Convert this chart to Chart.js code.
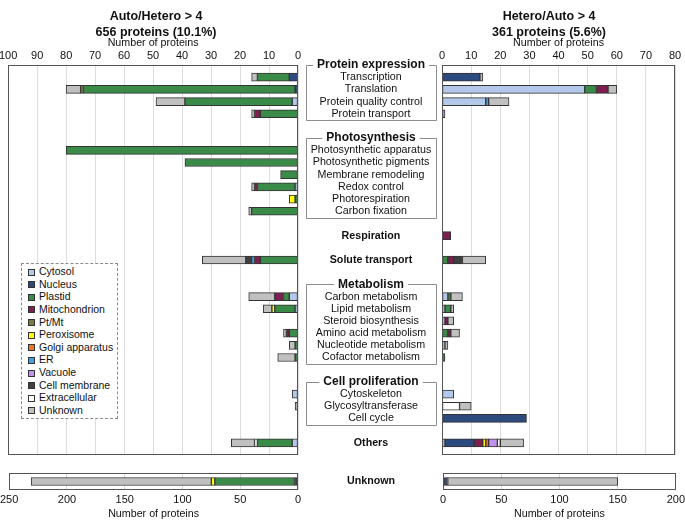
<!DOCTYPE html>
<html>
<head>
<meta charset="utf-8">
<script src="https://cdn.jsdelivr.net/npm/chart.js@4.4.1/dist/chart.umd.min.js"></script>
<style>
  body { margin: 0; background: #fff; font-family: "Liberation Sans", Arial, sans-serif; }
  #wrap { position: relative; width: 685px; height: 520px; overflow: hidden; }
  canvas { position: absolute; }
  .ttl { position: absolute; top: 8px; width: 200px; text-align: center; font-weight: bold; font-size: 12.5px;
         line-height: 16px; color: #111; }
  #legend { position: absolute; left: 21px; top: 263px; width: 97px; height: 156px; box-sizing: border-box;
            border: 1px dashed #8a8a8a; background: #fff; padding-top: 1px; }
  .li { height: 12.64px; line-height: 12.64px; font-size: 10.5px; color: #111; white-space: nowrap; }
  .sw { display: inline-block; width: 5px; height: 5px; border: 1px solid #333; margin: 0 4px 0 6px; vertical-align: -0.5px; }
</style>
</head>
<body>
<div id="wrap">
  <canvas id="topLeft" width="443" height="462" style="left:-3px;top:0"></canvas>
  <canvas id="topRight" width="248" height="462" style="left:437px;top:0"></canvas>
  <canvas id="botLeft" width="443" height="58" style="left:-3px;top:462px"></canvas>
  <canvas id="botRight" width="251" height="58" style="left:437px;top:462px"></canvas>
  <div class="ttl" style="left:56px">Auto/Hetero &gt; 4<br>656 proteins (10.1%)</div>
  <div class="ttl" style="left:449px">Hetero/Auto &gt; 4<br>361 proteins (5.6%)</div>
  <div id="legend"></div>
</div>
<script>
// ---- categories ----
var groupNames = ['Protein expression', 'Photosynthesis', 'Respiration', 'Solute transport', 'Metabolism', 'Cell proliferation', 'Others'];
var groupItems = [
  ['Transcription', 'Translation', 'Protein quality control', 'Protein transport'],
  ['Photosynthetic apparatus', 'Photosynthetic pigments', 'Membrane remodeling', 'Redox control', 'Photorespiration', 'Carbon fixation'],
  [],
  [],
  ['Carbon metabolism', 'Lipid metabolism', 'Steroid biosynthesis', 'Amino acid metabolism', 'Nucleotide metabolism', 'Cofactor metabolism'],
  ['Cytoskeleton', 'Glycosyltransferase', 'Cell cycle'],
  []
];
var locNames = ['Cytosol', 'Nucleus', 'Plastid', 'Mitochondrion', 'Pt/Mt', 'Peroxisome', 'Golgi apparatus', 'ER', 'Vacuole', 'Cell membrane', 'Extracellular', 'Unknown'];
var locColors = ['#b3c9ea', '#2d4a7f', '#3a8a48', '#7b2050', '#7c7a3e', '#ffff10', '#ea7628', '#40a2e6', '#c391f0', '#404040', '#ffffff', '#c0c0c0'];

// ---- Auto/Hetero > 4 (22 rows, top to bottom) ----
var ahCytosol  = [0, 0, 2, 0,   0, 0, 0, 1, 0, 0,   0,  0,   3, 1, 0, 0, 0, 0,   2, 0, 0,   2];
var ahNucleus  = [3, 1, 0, 0,   0, 0, 0, 0, 0, 0,   0,  0,   0, 0, 0, 0, 0, 0,   0, 0, 0,   0];
var ahPlastid  = [11, 73, 37, 13, 80, 39, 6, 13, 1, 16, 0, 13, 2, 7, 0, 3, 1, 1,  0, 0, 0,  12];
var ahMito     = [0, 0, 0, 2,   0, 0, 0, 1, 0, 0,   0,  2,   3, 0, 0, 1, 0, 0,   0, 0, 0,   0];
var ahPtMt     = [0, 1, 0, 0,   0, 0, 0, 0, 0, 0,   0,  0,   0, 0, 0, 0, 0, 0,   0, 0, 0,   0];
var ahPerox    = [0, 0, 0, 0,   0, 0, 0, 0, 2, 0,   0,  0,   0, 1, 0, 0, 0, 0,   0, 0, 0,   0];
var ahGolgi    = [0, 0, 0, 0,   0, 0, 0, 0, 0, 0,   0,  0,   0, 0, 0, 0, 0, 0,   0, 0, 0,   0];
var ahER       = [0, 0, 0, 0,   0, 0, 0, 0, 0, 0,   0,  1,   0, 0, 0, 0, 0, 0,   0, 0, 0,   0];
var ahVacuole  = [0, 0, 0, 0,   0, 0, 0, 0, 0, 0,   0,  0,   0, 0, 0, 0, 0, 0,   0, 0, 0,   0];
var ahMembrane = [0, 0, 0, 0,   0, 0, 0, 0, 0, 0,   0,  2,   0, 0, 0, 0, 0, 0,   0, 0, 0,   0];
var ahExtra    = [0, 0, 0, 0,   0, 0, 0, 0, 0, 0,   0,  0,   0, 0, 0, 0, 0, 0,   0, 0, 0,   1];
var ahUnknown  = [2, 5, 10, 1,  0, 0, 0, 1, 0, 1,   0, 15,   9, 3, 0, 1, 2, 6,   0, 1, 0,   8];

// ---- Hetero/Auto > 4 ----
var haCytosol  = [0, 49, 15, 0, 0, 0, 0, 0, 0, 0,   0,  0,   2, 1, 1, 0, 1, 0,   4, 0, 0,   1];
var haNucleus  = [13, 0, 0, 0,  0, 0, 0, 0, 0, 0,   0,  0,   0, 0, 0, 0, 0, 0,   0, 0, 29, 10];
var haPlastid  = [0, 4, 0, 0,   0, 0, 0, 0, 0, 0,   0,  2,   1, 2, 0, 2, 0, 1,   0, 0, 0,   0];
var haMito     = [0, 4, 0, 0,   0, 0, 0, 0, 0, 0,   3,  2,   0, 0, 1, 1, 0, 0,   0, 0, 0,   3];
var haPtMt     = [0, 0, 0, 0,   0, 0, 0, 0, 0, 0,   0,  0,   0, 0, 0, 0, 0, 0,   0, 0, 0,   0];
var haPerox    = [0, 0, 0, 0,   0, 0, 0, 0, 0, 0,   0,  0,   0, 0, 0, 0, 0, 0,   0, 0, 0,   1];
var haGolgi    = [0, 0, 0, 0,   0, 0, 0, 0, 0, 0,   0,  0,   0, 0, 0, 0, 0, 0,   0, 0, 0,   1];
var haER       = [0, 0, 1, 0,   0, 0, 0, 0, 0, 0,   0,  0,   0, 0, 0, 0, 0, 0,   0, 0, 0,   0];
var haVacuole  = [0, 0, 0, 1,   0, 0, 0, 0, 0, 0,   0,  0,   0, 0, 0, 0, 0, 0,   0, 0, 0,   3];
var haMembrane = [0, 0, 0, 0,   0, 0, 0, 0, 0, 0,   0,  3,   0, 0, 0, 0, 0, 0,   0, 0, 0,   0];
var haExtra    = [0, 0, 0, 0,   0, 0, 0, 0, 0, 0,   0,  0,   0, 0, 0, 0, 0, 0,   0, 6, 0,   1];
var haUnknown  = [1, 3, 7, 0,   0, 0, 0, 0, 0, 0,   0,  8,   4, 1, 2, 3, 1, 0,   0, 4, 0,   8];

// ---- "Unknown" function row, by localization ----
var ahUnknownFn = [1, 2, 69, 0, 0, 3, 0, 0, 0, 0, 0, 156];
var haUnknownFn = [0, 3, 1, 0, 0, 0, 0, 0, 0, 0, 0, 146];

var ahSeries = [ahCytosol, ahNucleus, ahPlastid, ahMito, ahPtMt, ahPerox, ahGolgi, ahER, ahVacuole, ahMembrane, ahExtra, ahUnknown];
var haSeries = [haCytosol, haNucleus, haPlastid, haMito, haPtMt, haPerox, haGolgi, haER, haVacuole, haMembrane, haExtra, haUnknown];

// =========================================================================
// slots on the y axis: data rows, group headers and spacer rows
// =========================================================================
var slots = [];
var rowN = 0;
groupNames.forEach(function (g, gi) {
  var items = groupItems[gi];
  if (gi > 0) slots.push({ kind: 'gap' });
  if (items.length) {
    var h = { kind: 'header', text: g };
    slots.push(h);
    items.forEach(function (t) { slots.push({ kind: 'item', text: t, row: rowN++ }); });
    h.last = slots.length - 1;
  } else {
    slots.push({ kind: 'single', text: g, row: rowN++ });
  }
});
slots.push({ kind: 'gap' });
var slotLabels = slots.map(function (s) { return s.text || ''; });

function toSlots(arr) {
  return slots.map(function (s) { return s.row === undefined ? null : (arr[s.row] || null); });
}

function makeSets(series) {
  return locNames.map(function (name, i) {
    return { label: name, data: toSlots(series[i]), backgroundColor: locColors[i], borderColor: '#333',
             borderWidth: 1, borderSkipped: false, barThickness: 8 };
  });
}
function makeSingle(values) {
  return locNames.map(function (name, i) {
    return { label: name, data: [values[i] || null], backgroundColor: locColors[i], borderColor: '#333',
             borderWidth: 1, borderSkipped: false, barThickness: 8 };
  });
}

Chart.defaults.font.family = '"Liberation Sans", Arial, sans-serif';
Chart.defaults.color = '#111';
Chart.defaults.animation = false;

var FONT = '"Liberation Sans", Arial, sans-serif';

// caja del panel
var panelBorder = {
  id: 'panelBorder',
  afterDatasetsDraw: function (chart) {
    var a = chart.chartArea, ctx = chart.ctx;
    ctx.save();
    ctx.strokeStyle = '#555';
    ctx.lineWidth = 1;
    ctx.strokeRect(Math.round(a.left) + 0.5, Math.round(a.top) + 0.5, Math.round(a.right - a.left) - 1, Math.round(a.bottom - a.top) - 1);
    ctx.restore();
  }
};

// etiquetas centrales con cajas de grupo (coordenadas del canvas izquierdo, desplazado 3px)
var centerX = 374, boxL = 309.5, boxR = 439.5;
var centerLabels = {
  id: 'centerLabels',
  afterDraw: function (chart) {
    var ctx = chart.ctx, y = chart.scales.y;
    var rowH = y.getPixelForValue(1) - y.getPixelForValue(0);
    ctx.save();
    ctx.textAlign = 'center';
    ctx.textBaseline = 'middle';
    ctx.fillStyle = '#111';
    ctx.strokeStyle = '#8c8c8c';
    ctx.lineWidth = 1;
    slots.forEach(function (s, i) {
      var py = y.getPixelForValue(i);
      if (s.kind === 'item') {
        ctx.font = '10.7px ' + FONT;
        ctx.fillText(s.text, centerX, py);
      } else if (s.kind === 'single') {
        ctx.font = 'bold 10.7px ' + FONT;
        ctx.fillText(s.text, centerX, py);
      } else if (s.kind === 'header') {
        ctx.font = 'bold 12px ' + FONT;
        ctx.fillText(s.text, centerX, py);
        var w = ctx.measureText(s.text).width;
        var top = Math.round(py) + 0.5;
        var bot = Math.round(y.getPixelForValue(s.last) + rowH * 0.55) + 0.5;
        ctx.beginPath();
        ctx.moveTo(centerX - w / 2 - 4, top); ctx.lineTo(boxL, top); ctx.lineTo(boxL, bot);
        ctx.lineTo(boxR, bot); ctx.lineTo(boxR, top); ctx.lineTo(centerX + w / 2 + 4, top);
        ctx.stroke();
      }
    });
    ctx.restore();
  }
};

var unknownLabel = {
  id: 'unknownLabel',
  afterDraw: function (chart) {
    var ctx = chart.ctx;
    ctx.save();
    ctx.font = 'bold 10.7px ' + FONT;
    ctx.fillStyle = '#111';
    ctx.textAlign = 'center';
    ctx.textBaseline = 'middle';
    ctx.fillText('Unknown', centerX, chart.scales.y.getPixelForValue(0));
    ctx.restore();
  }
};

function topAxis(reverse, max) {
  return {
    type: 'linear', position: 'top', stacked: true, reverse: reverse, min: 0, max: max,
    ticks: { stepSize: 10, padding: 2, font: { size: 11 }, color: '#111' },
    grid: { color: '#dcdcdc', drawTicks: false },
    border: { display: false },
    title: { display: true, text: 'Number of proteins', font: { size: 10.7 }, padding: 0, color: '#111' },
    afterFit: function (s) { s.height = 28; }
  };
}
function bottomAxis(reverse, max) {
  return {
    type: 'linear', position: 'bottom', stacked: true, reverse: reverse, min: 0, max: max,
    ticks: { stepSize: 50, padding: 3, font: { size: 11 }, color: '#111' },
    grid: { color: '#dcdcdc', drawTicks: false },
    border: { display: false },
    title: { display: true, text: 'Number of proteins', font: { size: 10.7 }, padding: 0, color: '#111' },
    afterFit: function (s) { s.height = 30; }
  };
}
var yTop = { type: 'category', labels: slotLabels, offset: false, stacked: true, display: false, grid: { display: false } };
var yBot = { type: 'category', labels: ['Unknown'], offset: true, stacked: true, display: false, grid: { display: false } };

var noPlug = { legend: { display: false }, tooltip: { enabled: false }, title: { display: false } };

new Chart(document.getElementById('topLeft'), {
  type: 'bar',
  data: { labels: slotLabels, datasets: makeSets(ahSeries) },
  options: {
    responsive: false, indexAxis: 'y',
    layout: { padding: { top: 37, right: 142, bottom: 7 } },
    scales: { x: topAxis(true, 100), y: yTop },
    plugins: noPlug
  },
  plugins: [panelBorder, centerLabels]
});

new Chart(document.getElementById('topRight'), {
  type: 'bar',
  data: { labels: slotLabels, datasets: makeSets(haSeries) },
  options: {
    responsive: false, indexAxis: 'y',
    layout: { padding: { top: 37, left: 0, right: 10, bottom: 7 } },
    scales: { x: topAxis(false, 80), y: yTop },
    plugins: noPlug
  },
  plugins: [panelBorder]
});

new Chart(document.getElementById('botLeft'), {
  type: 'bar',
  data: { labels: ['Unknown'], datasets: makeSingle(ahUnknownFn) },
  options: {
    responsive: false, indexAxis: 'y',
    layout: { padding: { right: 142, top: 11 } },
    scales: { x: bottomAxis(true, 250), y: yBot },
    plugins: noPlug
  },
  plugins: [panelBorder, unknownLabel]
});

new Chart(document.getElementById('botRight'), {
  type: 'bar',
  data: { labels: ['Unknown'], datasets: makeSingle(haUnknownFn) },
  options: {
    responsive: false, indexAxis: 'y',
    layout: { padding: { left: 0, right: 0, top: 11 } },
    scales: { x: bottomAxis(false, 200), y: yBot },
    plugins: noPlug
  },
  plugins: [panelBorder]
});

// leyenda
var legend = document.getElementById('legend');
locNames.forEach(function (name, i) {
  var d = document.createElement('div');
  d.className = 'li';
  d.innerHTML = '<span class="sw" style="background:' + locColors[i] + '"></span>' + name;
  legend.appendChild(d);
});
</script>
</body>
</html>
